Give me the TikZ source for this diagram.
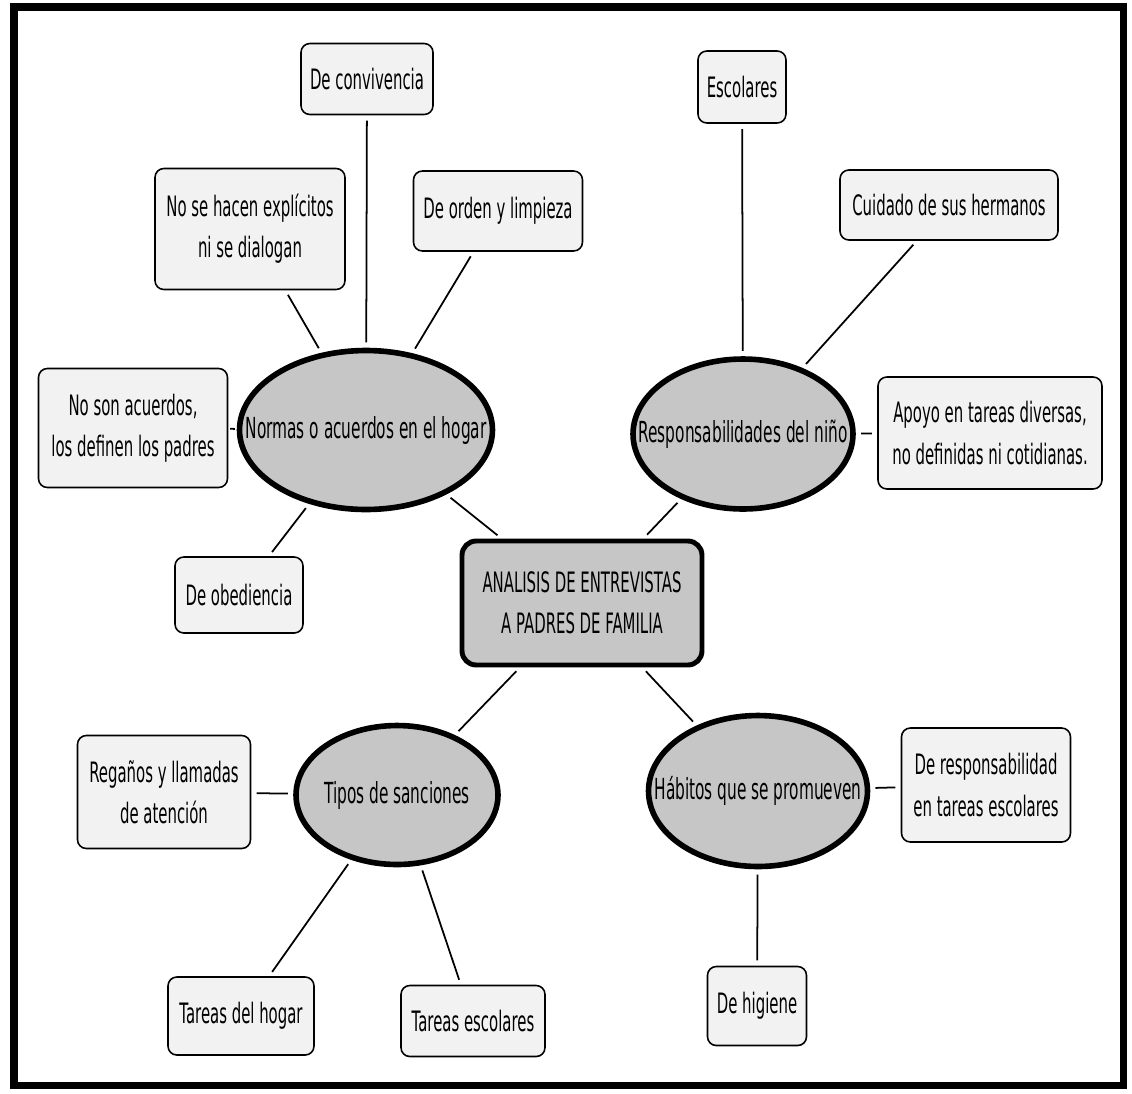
\documentclass[tikz,border=0pt]{standalone}
\usepackage{fontspec}
\setmainfont[FakeStretch=0.53]{DejaVu Sans}
\usetikzlibrary{shapes.geometric}
\begin{document}
\begin{tikzpicture}[x=0.02cm, y=-0.02cm,
    caja/.style={draw, rounded corners=5pt, fill=gray!10, line width=0.9pt, align=center,
      inner sep=2pt, font=\fontsize{16}{23.5}\selectfont},
    tema/.style={draw, ellipse, fill=gray!45, line width=3.2pt, inner sep=0pt,
      font=\fontsize{16.5}{20}\selectfont},
    linea/.style={line width=1pt, shorten <=3pt, shorten >=3pt}]
  \useasboundingbox (0,0) rectangle (1132,1093);
  \draw[line width=4pt] (14,7) rectangle (1123,1085);

  % centro y temas
  \node[caja, rounded corners=8pt, line width=2.8pt, fill=gray!45, minimum width=4.8cm, minimum height=2.48cm] (centro) at (582,603) {ANALISIS DE ENTREVISTAS\\A PADRES DE FAMILIA};
  \node[tema, minimum width=5.06cm, minimum height=3.18cm] (normas) at (366,430) {\makebox[0pt]{Normas o acuerdos en el hogar}};
  \node[tema, minimum width=4.4cm, minimum height=3cm] (resp) at (743,434) {\makebox[0pt]{Responsabilidades del niño}};
  \node[tema, minimum width=4.04cm, minimum height=2.78cm] (tipos) at (397,795) {\makebox[0pt]{Tipos de sanciones}};
  \node[tema, minimum width=4.38cm, minimum height=3.02cm] (habitos) at (758,791) {\makebox[0pt]{Hábitos que se promueven}};

  % normas
  \node[caja, minimum width=2.64cm, minimum height=1.42cm] (conv) at (367,79) {De convivencia};
  \node[caja, minimum width=3.8cm, minimum height=2.42cm] (noexp) at (250,229) {No se hacen explícitos\\ni se dialogan};
  \node[caja, minimum width=3.38cm, minimum height=1.6cm] (orden) at (498,211) {De orden y limpieza};
  \node[caja, minimum width=3.78cm, minimum height=2.38cm] (nosonac) at (133,428) {No son acuerdos,\\los definen los padres};
  \node[caja, minimum width=2.56cm, minimum height=1.52cm] (obed) at (239,595) {De obediencia};

  % responsabilidades
  \node[caja, minimum width=1.76cm, minimum height=1.44cm] (esc) at (742,87) {Escolares};
  \node[caja, minimum width=4.36cm, minimum height=1.4cm] (cuid) at (949,205) {Cuidado de sus hermanos};
  \node[caja, minimum width=4.48cm, minimum height=2.24cm] (apoyo) at (990,433) {Apoyo en tareas diversas,\\no definidas ni cotidianas.};

  % sanciones
  \node[caja, minimum width=3.46cm, minimum height=2.26cm] (regan) at (164,792) {Regaños y llamadas\\de atención};
  \node[caja, minimum width=2.92cm, minimum height=1.56cm] (hogar) at (241,1016) {Tareas del hogar};
  \node[caja, minimum width=2.88cm, minimum height=1.42cm] (tesc) at (473,1021) {Tareas escolares};

  % habitos
  \node[caja, minimum width=3.38cm, minimum height=2.28cm] (deresp) at (986,785) {De responsabilidad\\en tareas escolares};
  \node[caja, minimum width=1.98cm, minimum height=1.58cm] (hig) at (757,1006) {De higiene};

  \draw[linea] (centro) -- (normas);
  \draw[linea] (centro) -- (resp);
  \draw[linea] (centro) -- (tipos);
  \draw[linea] (centro) -- (habitos);
  \foreach \n in {conv,noexp,orden,obed}
    \draw[linea] (normas) -- (\n);
  \draw[linea, shorten <=1pt, shorten >=1pt] (normas) -- (nosonac);
  \foreach \n in {esc,cuid,apoyo}
    \draw[linea] (resp) -- (\n);
  \foreach \n in {regan,hogar,tesc}
    \draw[linea] (tipos) -- (\n);
  \foreach \n in {deresp,hig}
    \draw[linea] (habitos) -- (\n);
\end{tikzpicture}
\end{document}
